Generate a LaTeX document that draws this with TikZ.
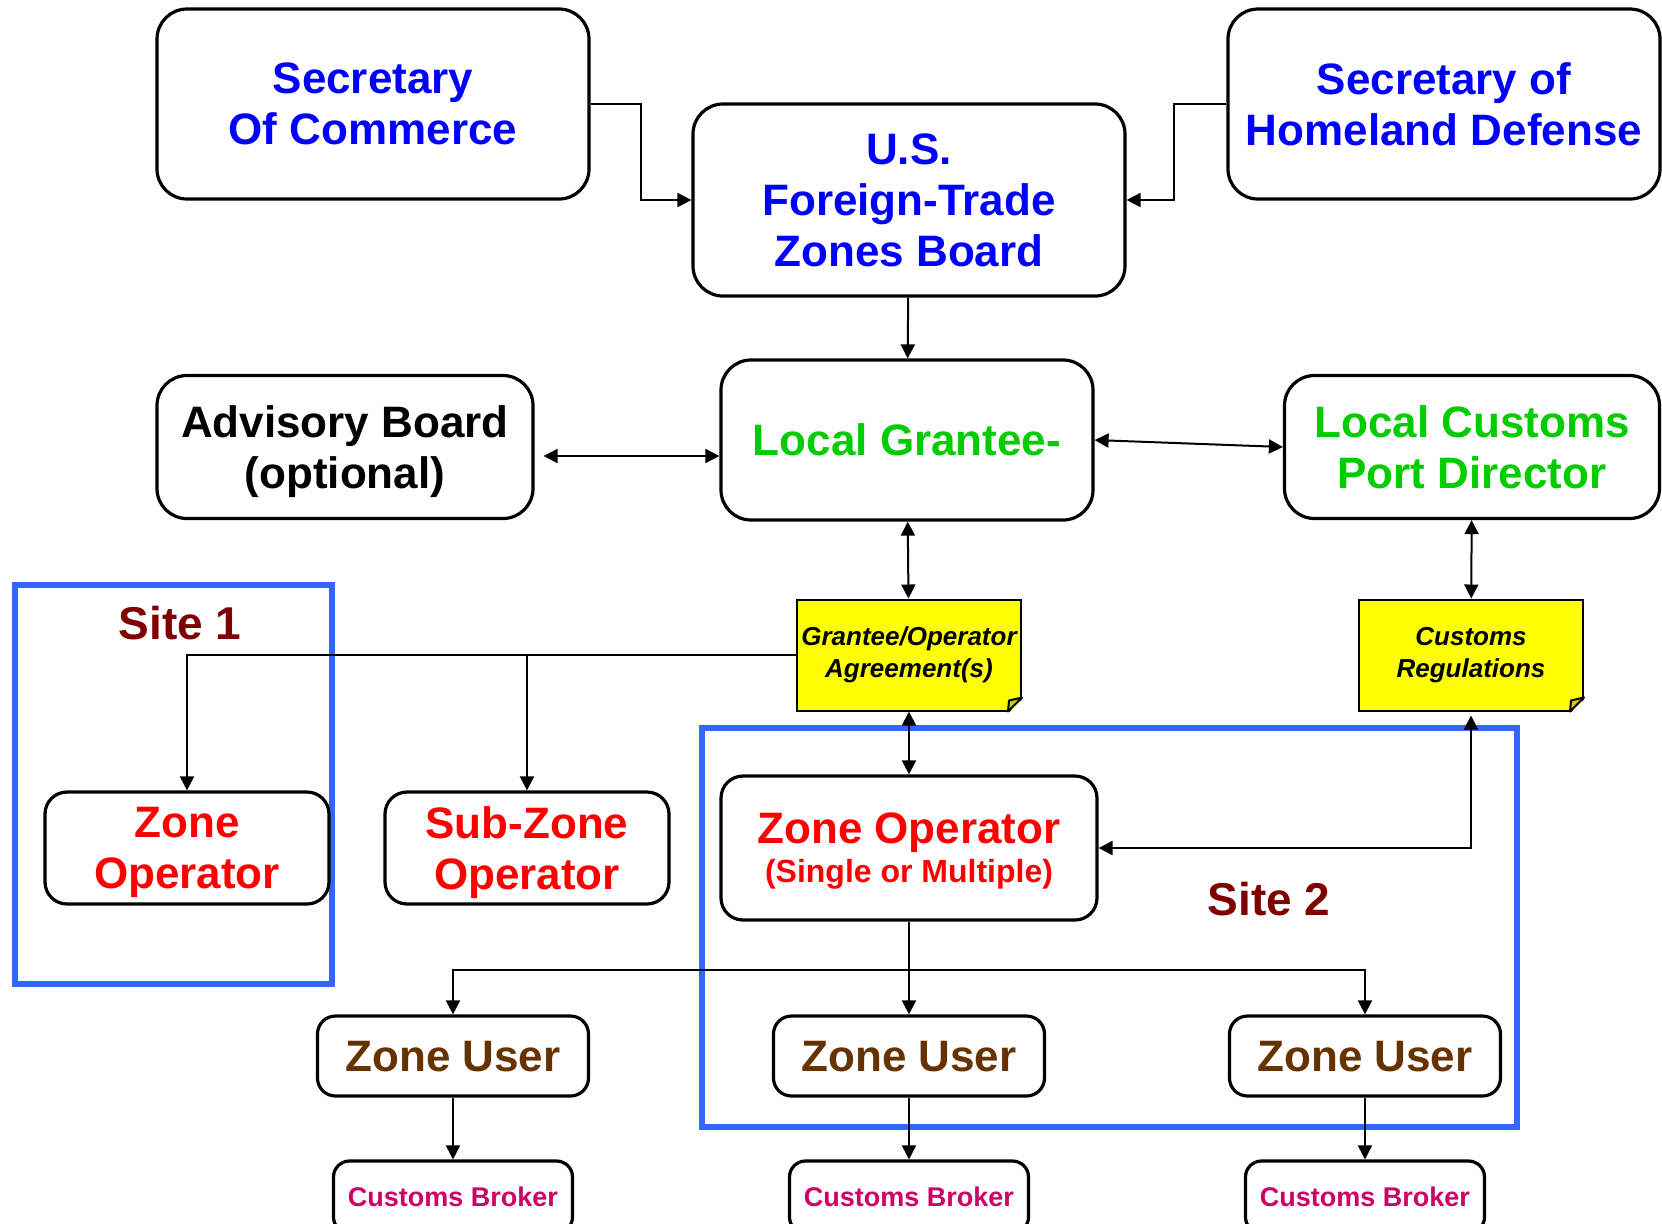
\documentclass[tikz,border=0pt]{standalone}
\usepackage{fontspec}
\setmainfont{Liberation Sans}
\usetikzlibrary{arrows.meta, positioning}

\definecolor{boardblue}{RGB}{0,0,255}
\definecolor{localgreen}{RGB}{0,204,0}
\definecolor{userbrown}{RGB}{102,51,0}
\definecolor{brokerpink}{RGB}{204,0,102}
\definecolor{sitered}{RGB}{128,0,0}
\definecolor{siteblue}{RGB}{51,102,255}
\definecolor{notey}{RGB}{255,255,0}
\definecolor{folddark}{RGB}{204,204,0}

% folded corner of a yellow note
\newcommand{\notefold}[1]{%
  \fill[white] ([shift={(1pt,7pt)}]#1.south east) -- ([shift={(1pt,-1pt)}]#1.south east)
    -- ([shift={(-7pt,-1pt)}]#1.south east) -- cycle;
  \draw[line width=1pt, fill=folddark, line join=round] ([yshift=7pt]#1.south east)
    -- ([shift={(-6.5pt,5.5pt)}]#1.south east) -- ([xshift=-7pt]#1.south east) -- cycle;
}

\begin{document}
\begin{tikzpicture}[x=0.5pt, y=-0.5pt, >={Triangle[length=7pt,width=7pt]}, node distance=70.5pt,
  box/.style={draw, fill=white, line width=1.6pt, rounded corners=15pt, align=center,
    inner sep=0pt, text depth=0pt, font=\bfseries\fontsize{22}{25.5}\selectfont},
  midbox/.style={box, rounded corners=11pt},
  userbox/.style={box, rounded corners=9pt, minimum width=135.5pt, minimum height=40pt, text=userbrown},
  brokerbox/.style={box, rounded corners=8pt, minimum width=119.5pt, minimum height=36pt,
    text=brokerpink, font=\bfseries\fontsize{13.5}{16}\selectfont},
  note/.style={draw, fill=notey, line width=1pt, minimum width=112pt, minimum height=55.5pt,
    align=center, inner sep=0pt, font=\bfseries\itshape\fontsize{13}{16}\selectfont},
  site/.style={draw=siteblue, line width=3.2pt},
  sitelabel/.style={text=sitered, font=\bfseries\fontsize{23}{27}\selectfont},
  link/.style={line width=1pt}]
\useasboundingbox (0,0) rectangle (1662,1223);

% the two sites
  \draw[site] (15,585) rectangle (332,984);
  \draw[site] (702,728) rectangle (1517,1127);
  \node[sitelabel] (site1) at (180,623) {Site 1};
  \node[sitelabel] (site2) at (1269,899) {Site 2};

% define the boards and offices
  \node[box, minimum width=216pt, minimum height=95pt, text=boardblue] (com) at (373,104) {Secretary\\Of Commerce};
  \node[box, minimum width=216pt, minimum height=96pt, text=boardblue] (ftz) at (909,200) {U.S.\\Foreign-Trade\\Zones Board};
  \node[box, minimum width=216pt, minimum height=95pt, text=boardblue] (hom) at (1444,104) {Secretary of\\Homeland Defense};
  \node[box, minimum width=188pt, minimum height=71.5pt] (adv) at (345,447) {Advisory Board\\(optional)};
  \node[box, minimum width=186pt, minimum height=80pt, text=localgreen] (grant) at (907,440) {Local Grantee-};
  \node[box, minimum width=187.5pt, minimum height=71.5pt, text=localgreen] (port) at (1472,447) {Local Customs\\Port Director};

% the agreements
  \node[note] (agr) at (909,655) {Grantee/Operator\\Agreement(s)};
  \node[note] (reg) at (1471,655) {Customs\\Regulations};
  \notefold{agr}
  \notefold{reg}

% operators, users and brokers
  \node[midbox, minimum width=142pt, minimum height=56pt, text=red] (op1) at (187,848) {Zone\\Operator};
  \node[midbox, minimum width=142pt, minimum height=56pt, text=red] (sub) at (527,848) {Sub-Zone\\Operator};
  \node[midbox, minimum width=188pt, minimum height=72pt, text=red, text depth=-2pt] (op2) at (909,848)
    {Zone Operator\\[-6pt]{\fontsize{16}{19}\selectfont (Single or Multiple)}};
  \node[userbox] (user1) at (453,1056) {Zone User};
  \node[userbox] (user2) at (909,1056) {Zone User};
  \node[userbox] (user3) at (1365,1056) {Zone User};
  \node[brokerbox] (brk1) [below of=user1] {Customs Broker};
  \node[brokerbox] (brk2) [below of=user2] {Customs Broker};
  \node[brokerbox] (brk3) [below of=user3] {Customs Broker};

% define the links
  \coordinate (advr) at ([yshift=-4.5pt]adv.east);
  \draw[link, ->] (com.east) -- ++(50,0) |- (ftz.west);
  \draw[link, ->] (hom.west) -- ++(-52,0) |- (ftz.east);
  \path[link, ->] (ftz) edge (grant);
  \draw[link, <->, shorten <=4.5pt] (advr) -- (advr -| grant.west);
  \path[link, <->] (grant.east) edge (port.west)
             (grant) edge (agr)
             (port) edge (reg)
             (agr) edge (op2);
  \draw[link, ->] (agr.west) -| (op1.north);
  \draw[link, ->] (agr.west) -| (sub.north);
  \draw[link, <->, shorten <=2pt] (reg.south) |- (op2.east);
  \path[link, ->] (op2) edge (user2);
  \draw[link, ->] (op2.south) -- ++(0,48) -| (user1.north);
  \draw[link, ->] (op2.south) -- ++(0,48) -| (user3.north);
  \path[link, ->] (user1) edge (brk1)
             (user2) edge (brk2)
             (user3) edge (brk3);
\end{tikzpicture}
\end{document}
